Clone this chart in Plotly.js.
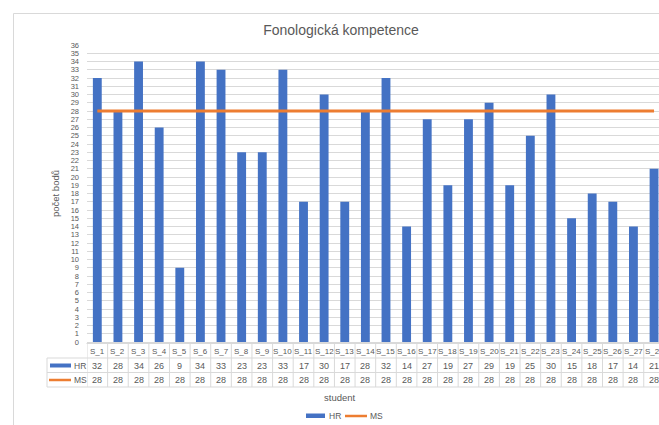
<!DOCTYPE html>
<html>
<head>
<meta charset="utf-8">
<script src="https://cdn.plot.ly/plotly-3.0.1.min.js"></script>
<style>html,body{margin:0;padding:0;background:#fff;}#chart{width:659px;height:425px;}</style>
</head>
<body>
<div id="chart"></div>
<script>
// ---- data ----
var categories = ["S_1","S_2","S_3","S_4","S_5","S_6","S_7","S_8","S_9","S_10","S_11","S_12","S_13","S_14","S_15","S_16","S_17","S_18","S_19","S_20","S_21","S_22","S_23","S_24","S_25","S_26","S_27","S_28"];
var hrValues = [32,28,34,26,9,34,33,23,23,33,17,30,17,28,32,14,27,19,27,29,19,25,30,15,18,17,14,21];
var msValues = [28,28,28,28,28,28,28,28,28,28,28,28,28,28,28,28,28,28,28,28,28,28,28,28,28,28,28,28];
var seriesNames = ["HR","MS"];
var chartTitle = "Fonologická kompetence";
var yTitle = "počet bodů";
var xTitle = "student";

// ---- layout helpers (pixel -> paper) ----
var W = 659, H = 425;
var mL = 87, mR = 0, mT = 45, mB = 83;
var pw = W - mL - mR, ph = H - mT - mB;
function PX(px){ return (px - mL) / pw; }
function PY(py){ return (H - mB - py) / ph; }

var blue = "#4472C4", orange = "#ED7D31", grid = "#D9D9D9", txt = "#595959";
var font = "Liberation Sans, Arial, sans-serif";

var idx = categories.map(function(c,i){ return i; });

var traces = [
  {type:"bar", x: idx, y: hrValues, name: seriesNames[0], marker:{color: blue}, hoverinfo:"y"},
  {type:"scatter", mode:"lines", x: idx, y: msValues, name: seriesNames[1], line:{color: orange, width: 3}, hoverinfo:"y"}
];

var shapes = [];
var annotations = [];

// chart border
shapes.push({type:"line", xref:"paper", yref:"paper", x0:PX(13.5), x1:PX(700), y0:PY(13.5), y1:PY(13.5), line:{color:grid, width:1}});
shapes.push({type:"line", xref:"paper", yref:"paper", x0:PX(13.5), x1:PX(13.5), y0:PY(13.5), y1:PY(440), line:{color:grid, width:1}});

// data table
var rowY = [343.5, 358, 372.5, 387];
shapes.push({type:"line", xref:"paper", yref:"paper", x0:PX(86.5), x1:PX(700), y0:PY(rowY[0]), y1:PY(rowY[0]), line:{color:grid, width:1}});
for (var r = 1; r < rowY.length; r++) {
  shapes.push({type:"line", xref:"paper", yref:"paper", x0:PX(47), x1:PX(700), y0:PY(rowY[r]), y1:PY(rowY[r]), line:{color:grid, width:1}});
}
shapes.push({type:"line", xref:"paper", yref:"paper", x0:PX(47), x1:PX(47), y0:PY(rowY[1]), y1:PY(rowY[3]), line:{color:grid, width:1}});
for (var i = 0; i <= categories.length; i++) {
  shapes.push({type:"line", xref:"x", yref:"paper", x0:i-0.5, x1:i-0.5, y0:PY(rowY[0]), y1:PY(rowY[3]), line:{color:grid, width:1}});
}
categories.forEach(function(c,i){
  annotations.push({xref:"x", yref:"paper", x:i, y:PY(351), text:c, showarrow:false, font:{family:font, size:8, color:txt}, xanchor:"center", yanchor:"middle"});
  annotations.push({xref:"x", yref:"paper", x:i, y:PY(365.5), text:String(hrValues[i]), showarrow:false, font:{family:font, size:9, color:txt}, xanchor:"center", yanchor:"middle"});
  annotations.push({xref:"x", yref:"paper", x:i, y:PY(380), text:String(msValues[i]), showarrow:false, font:{family:font, size:9, color:txt}, xanchor:"center", yanchor:"middle"});
});
// header column legend keys
shapes.push({type:"rect", xref:"paper", yref:"paper", x0:PX(50), x1:PX(71), y0:PY(363.5), y1:PY(367.5), fillcolor:blue, line:{width:0}});
annotations.push({xref:"paper", yref:"paper", x:PX(72), y:PY(365.5), text:seriesNames[0], showarrow:false, font:{family:font, size:8.5, color:txt}, xanchor:"left", yanchor:"middle"});
shapes.push({type:"line", xref:"paper", yref:"paper", x0:PX(49), x1:PX(71), y0:PY(380), y1:PY(380), line:{color:orange, width:2.5}});
annotations.push({xref:"paper", yref:"paper", x:PX(71.5), y:PY(380), text:seriesNames[1], showarrow:false, font:{family:font, size:8.5, color:txt}, xanchor:"left", yanchor:"middle"});

// x axis title
annotations.push({xref:"paper", yref:"paper", x:PX(340), y:PY(397), text:xTitle, showarrow:false, font:{family:font, size:9.5, color:txt}, xanchor:"center", yanchor:"middle"});

// bottom legend
shapes.push({type:"rect", xref:"paper", yref:"paper", x0:PX(306), x1:PX(325), y0:PY(413.5), y1:PY(418), fillcolor:blue, line:{width:0}});
annotations.push({xref:"paper", yref:"paper", x:PX(326.5), y:PY(416), text:seriesNames[0], showarrow:false, font:{family:font, size:8.5, color:txt}, xanchor:"left", yanchor:"middle"});
shapes.push({type:"line", xref:"paper", yref:"paper", x0:PX(345), x1:PX(367), y0:PY(416), y1:PY(416), line:{color:orange, width:2.5}});
annotations.push({xref:"paper", yref:"paper", x:PX(367.5), y:PY(416), text:seriesNames[1], showarrow:false, font:{family:font, size:8.5, color:txt}, xanchor:"left", yanchor:"middle"});

var layout = {
  width: W, height: H,
  margin: {l: mL, r: mR, t: mT, b: mB, pad: 0},
  paper_bgcolor: "#fff", plot_bgcolor: "#fff",
  showlegend: false,
  bargap: 0.57,
  title: {text: chartTitle, font:{family:font, size:14, color:txt}, x: 341/W, xref:"container", xanchor:"center", y: 1 - 30/H, yref:"container", yanchor:"middle"},
  xaxis: {
    range: [-0.5, -0.5 + pw / 20.62],
    showticklabels: false, ticks: "", showgrid: false, zeroline: false, showline: false, fixedrange: true
  },
  yaxis: {
    range: [0, 36], dtick: 1, tick0: 0,
    showgrid: true, gridcolor: grid, gridwidth: 1,
    zeroline: true, zerolinecolor: grid, zerolinewidth: 1,
    showline: false, ticks: "",
    tickfont: {family: font, size: 7.5, color: txt},
    ticklabelstandoff: 7,
    title: {text: yTitle, font:{family:font, size:9.5, color:txt}, standoff: 9},
    fixedrange: true
  },
  shapes: shapes,
  annotations: annotations
};

Plotly.newPlot("chart", traces, layout, {displayModeBar: false, staticPlot: true});
</script>
</body>
</html>
